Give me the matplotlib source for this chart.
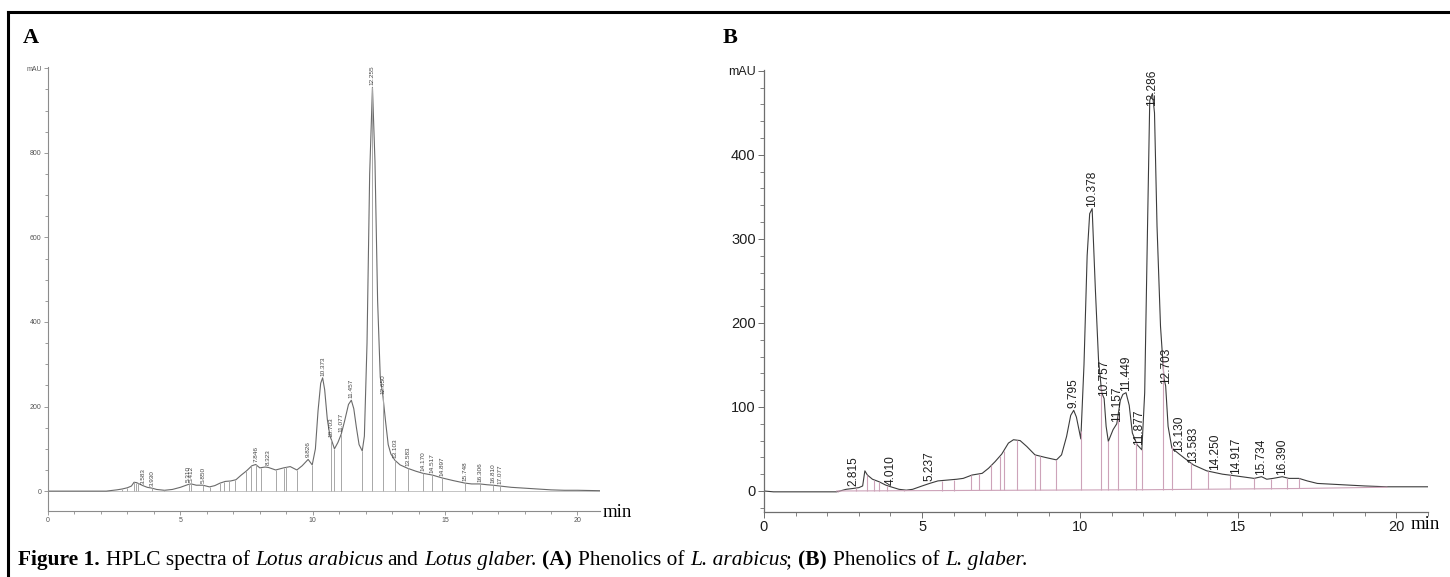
import numpy as np
import matplotlib
matplotlib.use('Agg')
import matplotlib.pyplot as plt
from matplotlib.ticker import MultipleLocator, FixedLocator, FixedFormatter
from matplotlib.lines import Line2D

# ---- Panel A: Lotus arabicus (retention time in min, signal in mAU) ----
time_a = [0.0, 2.2, 2.33, 2.6, 2.8, 3.0, 3.15, 3.25, 3.35, 3.45, 3.583, 3.75, 3.93, 4.1, 4.4,
          4.7, 5.0, 5.31, 5.412, 5.6, 5.85, 6.1, 6.3, 6.5, 6.7, 6.9, 7.1, 7.3, 7.5, 7.7,
          7.846, 8.0, 8.2, 8.323, 8.6, 8.9, 9.15, 9.4, 9.6, 9.826, 9.98, 10.1, 10.2, 10.3,
          10.373, 10.45, 10.55, 10.65, 10.703, 10.82, 10.95, 11.077, 11.2, 11.35, 11.457,
          11.55, 11.65, 11.75, 11.87, 11.95, 12.05, 12.15, 12.255, 12.35, 12.45, 12.55,
          12.65, 12.75, 12.85, 12.95, 13.103, 13.3, 13.583, 13.9, 14.17, 14.517, 14.897,
          15.3, 15.748, 16.0, 16.306, 16.6, 16.81, 17.077, 17.5, 18.0, 18.5, 19.0, 19.5,
          20.0, 20.85]
mau_a = [0, 0, 1, 3, 5, 8, 12, 21, 20, 17, 13, 9, 7, 4, 2,
         4, 9, 16, 17, 14, 14, 10, 13, 19, 23, 24, 27, 38, 48, 60,
         63, 55, 57, 56, 50, 55, 58, 50, 60, 75, 62, 100, 190, 255,
         268, 240, 170, 130, 122, 100, 115, 135, 165, 205, 215,
         195, 150, 110, 95, 130, 350, 750, 955, 780, 450, 270,
         225, 165, 110, 88, 73, 62, 54, 47, 42, 38, 31,
         25, 19, 17, 17, 15, 14, 12, 9, 7, 5, 3, 2,
         2, 1]
peaks_a = ['3.583', '3.930', '5.310', '5.412', '5.850', '7.846', '8.323', '9.826', '10.373',
           '10.703', '11.077', '11.457', '12.255', '12.650', '13.103', '13.583', '14.170',
           '14.517', '14.897', '15.748', '16.306', '16.810', '17.077']
drops_a = [2.33, 2.8, 3.0, 3.26, 3.32, 3.39, 3.93, 4.4, 5.31, 5.412, 5.85, 6.11, 6.48, 6.64,
           6.85, 7.06, 7.49, 7.68, 7.846, 8.06, 8.6, 8.9, 9.0, 9.4, 9.98, 10.703, 10.82,
           11.077, 11.87, 12.255, 12.65, 13.103, 13.583, 14.17, 14.517, 14.897, 15.748,
           16.306, 16.81, 17.077]

# ---- Panel B: Lotus glaber ----
time_b = [0.0, 0.3, 2.3, 2.6, 2.815, 3.0, 3.12, 3.19, 3.27, 3.43, 3.64, 3.85, 4.01, 4.27,
          4.5, 4.7, 5.0, 5.237, 5.5, 5.8, 6.1, 6.3, 6.58, 6.9, 7.1, 7.31, 7.52, 7.73, 7.89,
          8.1, 8.31, 8.57, 8.89, 9.25, 9.41, 9.57, 9.7, 9.795, 9.88, 10.02, 10.12, 10.22,
          10.3, 10.378, 10.48, 10.58, 10.68, 10.757, 10.82, 10.89, 11.04, 11.157, 11.27,
          11.35, 11.449, 11.55, 11.65, 11.8, 11.877, 11.95, 12.04, 12.13, 12.2, 12.286,
          12.35, 12.43, 12.54, 12.65, 12.703, 12.78, 12.9, 13.13, 13.3, 13.583, 14.0, 14.25,
          14.5, 14.917, 15.3, 15.5, 15.734, 15.9, 16.1, 16.39, 16.6, 16.92, 17.18, 17.5,
          18.0, 19.0, 19.7, 21.0]
mau_b = [0, -1, -1, 2, 3, 4, 6, 24, 19, 14, 11, 7, 5, 2,
         1, 2, 6, 9, 12, 13, 14, 15, 19, 21, 27, 35, 44, 57, 61,
         60, 53, 43, 40, 37, 43, 65, 90, 96, 88, 62, 150, 280,
         330, 336, 240, 156, 117, 110, 77, 59, 73, 80, 108,
         115, 117, 102, 69, 55, 52, 49, 117, 315, 465, 473,
         450, 315, 196, 134, 125, 77, 51, 44, 39, 31, 24, 22,
         20, 18, 16, 15, 17, 14, 15, 17, 15, 15, 12, 9,
         8, 6, 5, 5]
base_time_b = [2.3, 12.0, 17.0, 19.7]
base_mau_b = [0.0, 1.5, 3.0, 4.5]
peaks_b = ['2.815', '4.010', '5.237', '9.795', '10.378', '10.757', '11.157', '11.449',
           '11.877', '12.286', '12.703', '13.130', '13.583', '14.250', '14.917', '15.734',
           '16.390']
drops_b = [2.33, 2.9, 3.27, 3.48, 3.64, 3.9, 4.43, 5.63, 6.0, 6.56, 6.79, 7.19, 7.47, 7.58,
           8.0, 8.57, 8.73, 9.25, 10.03, 10.66, 10.89, 11.19, 11.75, 11.94, 12.61, 12.89,
           13.5, 14.03, 14.73, 15.5, 16.03, 16.55, 16.92, 19.7]

W, H = 1450, 577
fig = plt.figure(figsize=(W / 100, H / 100), dpi=100)

# ---------- panel A ----------
axA = fig.add_axes([48 / W, 1 - 511 / H, 552 / W, 444 / H])
axA.plot(time_a, mau_a, color='#6a6a6a', lw=0.8)
axA.axhline(0, color='#c4c4c4', lw=0.7, zorder=0)
axA.vlines(drops_a, 0, np.interp(drops_a, time_a, mau_a), colors='#a8a8a8', lw=0.7)
for p in peaks_a:
    t = float(p)
    axA.annotate(p, (t, np.interp(t, time_a, mau_a)), xytext=(0, 1.5),
                 textcoords='offset points', rotation=90, ha='center', va='bottom',
                 fontsize=4.6, color='#444444', family='Liberation Sans')
axA.set_xlim(0, 20.85)
axA.set_ylim(-47, 1003)
axA.yaxis.set_major_locator(FixedLocator([0, 200, 400, 600, 800, 1000]))
axA.yaxis.set_major_formatter(FixedFormatter(['0', '200', '400', '600', '800', 'mAU']))
axA.yaxis.set_minor_locator(MultipleLocator(50))
axA.xaxis.set_major_locator(MultipleLocator(5))
axA.xaxis.set_minor_locator(MultipleLocator(1))
for s in ['top', 'right']:
    axA.spines[s].set_visible(False)
for s in ['left', 'bottom']:
    axA.spines[s].set_color('#8c8c8c')
    axA.spines[s].set_linewidth(0.8)
axA.tick_params(which='major', length=3, width=0.6, color='#8c8c8c', labelsize=5,
                labelcolor='#555555', pad=1.5)
axA.tick_params(which='minor', length=2, width=0.6, color='#8c8c8c')
for lab in axA.get_xticklabels() + axA.get_yticklabels():
    lab.set_family('Liberation Sans')

# ---------- panel B ----------
axB = fig.add_axes([764 / W, 1 - 512 / H, 664 / W, 442 / H])
axB.plot(time_b, mau_b, color='#3c3c3c', lw=0.8)
axB.plot(base_time_b, base_mau_b, color='#cda3b9', lw=0.8)
axB.vlines(drops_b, np.interp(drops_b, base_time_b, base_mau_b),
           np.interp(drops_b, time_b, mau_b), colors='#cda3b9', lw=0.8)
labsB = []
for p in peaks_b:
    t = float(p)
    labsB.append(axB.annotate(p, (t, np.interp(t, time_b, mau_b)), xytext=(0, 1.5),
                              textcoords='offset points', rotation=90, ha='center',
                              va='bottom', fontsize=8.6, color='#1e1e1e',
                              family='Liberation Sans'))
axB.set_xlim(0, 21)
axB.set_ylim(-25, 501)
axB.yaxis.set_major_locator(FixedLocator([0, 100, 200, 300, 400, 500]))
axB.yaxis.set_major_formatter(FixedFormatter(['0', '100', '200', '300', '400', 'mAU']))
axB.yaxis.set_minor_locator(MultipleLocator(20))
axB.xaxis.set_major_locator(MultipleLocator(5))
axB.xaxis.set_minor_locator(MultipleLocator(1))
for s in ['top', 'right']:
    axB.spines[s].set_visible(False)
for s in ['left', 'bottom']:
    axB.spines[s].set_color('#6e6e6e')
    axB.spines[s].set_linewidth(0.9)
axB.tick_params(which='major', length=4.5, width=0.7, color='#6e6e6e', labelsize=10.5,
                labelcolor='#1e1e1e', pad=1.5)
axB.tick_params(which='minor', length=3, width=0.6, color='#6e6e6e')
for lab in axB.get_xticklabels() + axB.get_yticklabels():
    lab.set_family('Liberation Sans')
axB.get_yticklabels()[-1].set_fontsize(9)

# keep the tallest label inside the axis frame (as in the reference)
fig.canvas.draw()
r = fig.canvas.get_renderer()
topB = axB.get_window_extent(r).y1
for lab in labsB:
    bb = lab.get_window_extent(r)
    if bb.y1 > topB:
        dx, dy = lab.xyann
        lab.xyann = (dx, dy - (bb.y1 - topB) * 72 / fig.dpi)

# ---------- figure text ----------
serif = 'Liberation Serif'
fig.text(23 / W, 1 - 43 / H, 'A', family=serif, weight='bold', size=16, va='baseline')
fig.text(723 / W, 1 - 43 / H, 'B', family=serif, weight='bold', size=16, va='baseline')
fig.text(603 / W, 1 - 517 / H, 'min', family=serif, size=13.5, va='baseline')
fig.text(1411 / W, 1 - 529 / H, 'min', family=serif, size=13.5, va='baseline')

# frame lines
fig.add_artist(Line2D([8 / W, 1], [1 - 12 / H, 1 - 12 / H], color='black', lw=2.2))
fig.add_artist(Line2D([8 / W, 8 / W], [0, 1 - 12 / H], color='black', lw=2.2))

# caption with mixed styles
cap_parts = [
    ('Figure 1.', 'bold', 'normal'), (' HPLC spectra of ', 'normal', 'normal'),
    ('Lotus arabicus', 'normal', 'italic'), (' and ', 'normal', 'normal'),
    ('Lotus glaber', 'normal', 'italic'), ('. ', 'normal', 'normal'),
    ('(A)', 'bold', 'normal'), (' Phenolics of ', 'normal', 'normal'),
    ('L. arabicus', 'normal', 'italic'), ('; ', 'normal', 'normal'),
    ('(B)', 'bold', 'normal'), (' Phenolics of ', 'normal', 'normal'),
    ('L. glaber', 'normal', 'italic'), ('.', 'normal', 'normal'),
]
cap_size = 15.4
t1 = fig.text(0, 0, 'n n', family=serif, size=cap_size)
t2 = fig.text(0, 0, 'nn', family=serif, size=cap_size)
space = (t1.get_window_extent(r).width - t2.get_window_extent(r).width) / fig.bbox.width
t1.remove()
t2.remove()
x = 18 / W
y = 1 - 565 / H
for txt, weight, style in cap_parts:
    lead = len(txt) - len(txt.lstrip(' '))
    trail = len(txt) - len(txt.rstrip(' '))
    x += lead * space
    core = txt.strip(' ')
    t = fig.text(x, y, core, family=serif, size=cap_size, weight=weight, style=style,
                 va='baseline')
    adv = t.get_window_extent(r).width
    if style == 'italic':
        adv -= 2.5  # slanted glyph box overshoots the advance
    x += (adv + 0.5) / fig.bbox.width
    x += trail * space

fig.savefig('out.png', dpi=100)
